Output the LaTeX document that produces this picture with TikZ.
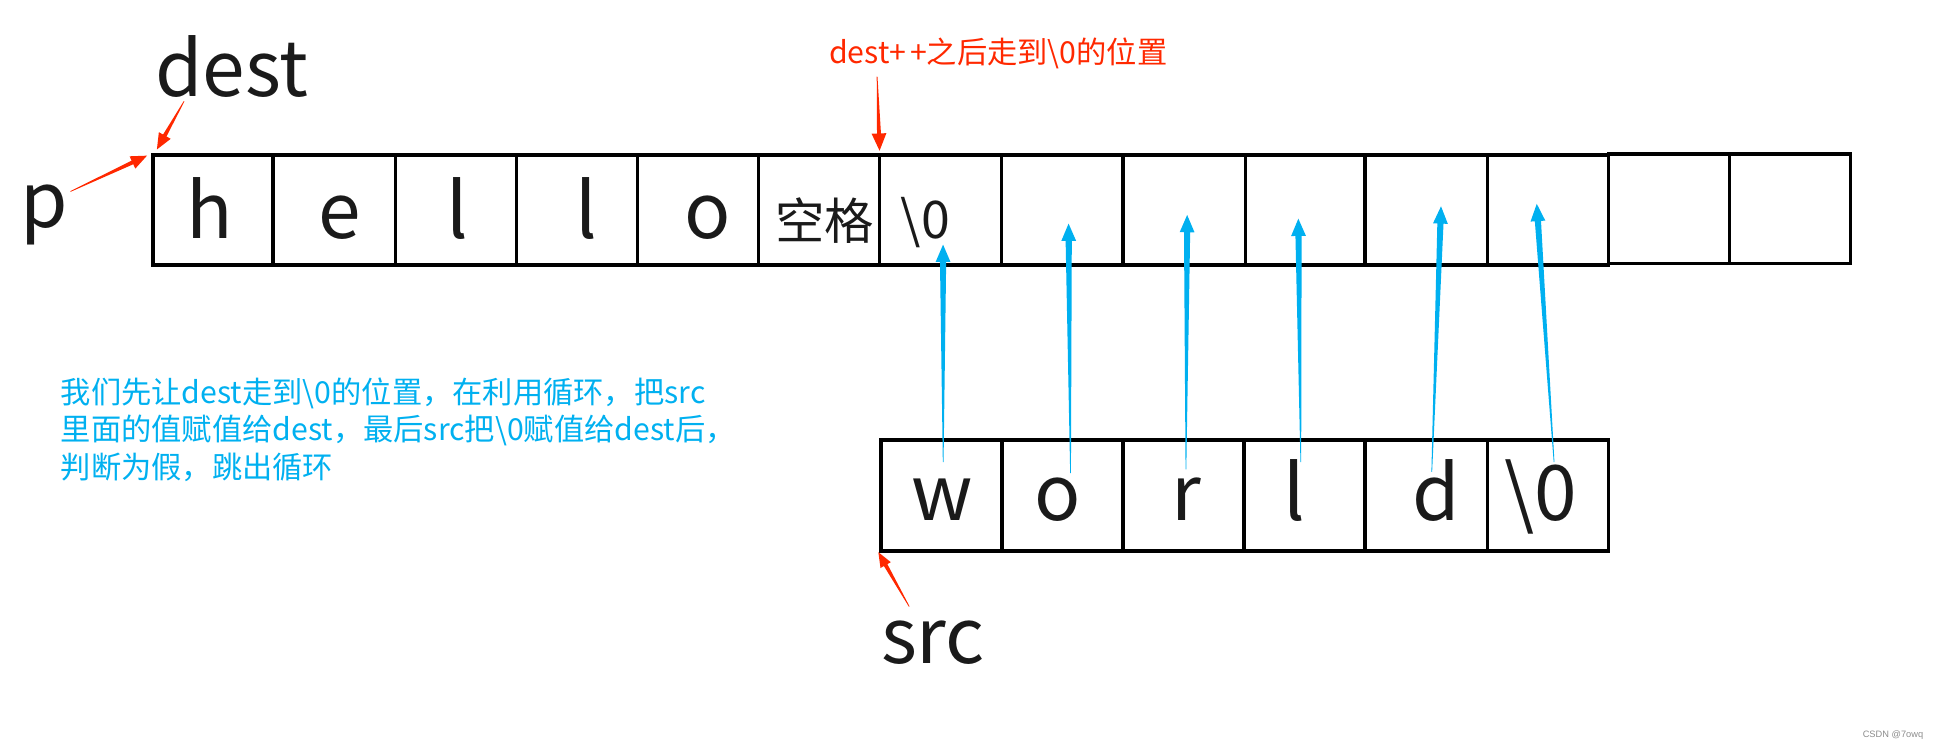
\documentclass[tikz,border=0pt]{standalone}
\usepackage{fontspec}
\setmainfont{Noto Sans CJK SC}
\newfontfamily\wmfont{Liberation Sans}
\usetikzlibrary{calc}
\definecolor{myred}{RGB}{255,40,0}
\definecolor{myblue}{RGB}{0,176,240}
\definecolor{ink}{RGB}{26,26,26}
% tapered arrow: #1 colour, #2 tail, #3 tip, #4 tail half width, #5 shaft half width, #6 head length, #7 head half width
\newcommand\tarrow[7]{%
  \coordinate (tB) at ($(#3)!#6pt!(#2)$);
  \fill[#1] ($(#2)!#4pt!90:(#3)$) -- ($(tB)!#5pt!90:(#3)$) -- ($(tB)!#7pt!90:(#3)$) -- (#3)
    -- ($(tB)!#7pt!-90:(#3)$) -- ($(tB)!#5pt!-90:(#3)$) -- ($(#2)!#4pt!-90:(#3)$) -- cycle;
}
\begin{document}
\begin{tikzpicture}[x=1pt,y=-1pt,
  cell/.style={draw=black,line width=2.8,inner sep=0,outer sep=0,minimum height=89,minimum width=98},
  big/.style={inner sep=0,text=ink,font=\fontsize{62}{62}\selectfont},
  mid/.style={inner sep=0,text=ink,font=\fontsize{#1}{#1}\selectfont},
  note/.style={inner sep=0,font=\fontsize{24.5}{30}\selectfont}]
\useasboundingbox (0,0) rectangle (1568,606);
% top row
\node[cell,minimum width=97] (t1) at (172.5,170) {};
\node[cell,minimum width=99] (t2) at (270.5,170) {};
\node[cell] (t3) at (369,170) {};
\node[cell] (t4) at (467,170) {};
\node[cell] (t5) at (565,170) {};
\node[cell] (t6) at (663,170) {};
\node[cell,minimum width=98.5] (t7) at (761.25,170) {};
\node[cell,minimum width=98.5] (t8) at (859.75,170) {};
\node[cell,minimum width=99] (t9) at (958.5,170) {};
\node[cell,minimum width=97] (t10) at (1056.5,170) {};
\node[cell,minimum width=99] (t11) at (1154.5,170) {};
\node[cell] (t12) at (1253,170) {};
\node[cell] (t13) at (1351,169) {};
\node[cell] (t14) at (1449,169) {};
% top letters
\node[big,anchor=base] (lh) at (170,193) {h};
\node[big,anchor=base] (le) at (275,193) {e};
\node[big,anchor=base] (ll1) at (370,193) {l};
\node[big,anchor=base] (ll2) at (475,193) {l};
\node[big,anchor=base] (lo) at (572.5,193) {o};
\node[mid=40,anchor=base] (lsp) at (667.5,194) {空格};
\node[mid=42,anchor=base west] (lz) at (729,193) {\textbackslash 0};
% bottom row
\node[cell,minimum height=90] (b1) at (762,401) {};
\node[cell,minimum height=90] (b2) at (860,401) {};
\node[cell,minimum height=90] (b3) at (958,401) {};
\node[cell,minimum height=90] (b4) at (1056,401) {};
\node[cell,minimum height=90,minimum width=99] (b5) at (1154.5,401) {};
\node[cell,minimum height=90] (b6) at (1253,401) {};
\node[big,anchor=base] (bw) at (762.6,421.5) {w};
\node[big,anchor=base] (bo) at (856.5,421.5) {o};
\node[big,anchor=base] (br) at (960,421.5) {r};
\node[big,anchor=base] (bl) at (1047.6,421.5) {l};
\node[big,anchor=base] (bd) at (1163,421.5) {d};
\node[big,anchor=base] (bz) at (1247,421.5) {\textbackslash 0};
% labels
\node[big,anchor=base west] (dest) at (125.5,78.5) {dest};
\node[big,anchor=base west] (p) at (16,184) {p};
\node[big,anchor=base west] (src) at (713,537) {src};
\node[note,text=myred,anchor=base west] (hint) at (671,51) {dest+\kern3pt+之后走到\textbackslash 0的位置};
\node[note,text=myblue,anchor=north west,align=left] (expl) at (49,306)
  {我们先让dest走到\textbackslash 0的位置，在利用循环，把src\\
   里面的值赋值给dest，最后src把\textbackslash 0赋值给dest后，\\
   判断为假，跳出循环};
\node[inner sep=0,anchor=base east,text=black!45,font=\wmfont\fontsize{7.5}{7.5}\selectfont] (wm) at (1557,597) {CSDN @7owq};
% arrow end points
\coordinate (pT) at (57,155);   \coordinate (pH) at (119,126);
\coordinate (dT) at (149,82);   \coordinate (dH) at (127,121);
\coordinate (hT) at (710,62);   \coordinate (hH) at (712,122);
\coordinate (sT) at (736,491);  \coordinate (sH) at (711,447);
\coordinate (a1T) at (763.5,374); \coordinate (a1H) at (763.4,198);
\coordinate (a2T) at (866.6,383); \coordinate (a2H) at (865,181);
\coordinate (a3T) at (960,380);   \coordinate (a3H) at (961,174);
\coordinate (a4T) at (1053,374);  \coordinate (a4H) at (1051,177);
\coordinate (a5T) at (1159,382);  \coordinate (a5H) at (1166.5,167);
\coordinate (a6T) at (1258,374);  \coordinate (a6H) at (1244,165);
% red arrows
\tarrow{myred}{pT}{pH}{0.3}{1.6}{13}{5.5}
\tarrow{myred}{dT}{dH}{0.3}{1.6}{13}{5.5}
\tarrow{myred}{hT}{hH}{0.3}{1.6}{14}{6}
\tarrow{myred}{sT}{sH}{0.3}{1.6}{12}{4.8}
% blue arrows
\tarrow{myblue}{a1T}{a1H}{0.3}{2.5}{14}{6}
\tarrow{myblue}{a2T}{a2H}{0.3}{2.5}{14}{6}
\tarrow{myblue}{a3T}{a3H}{0.3}{2.5}{14}{6}
\tarrow{myblue}{a4T}{a4H}{0.3}{2.5}{14}{6}
\tarrow{myblue}{a5T}{a5H}{0.3}{2.5}{14}{6}
\tarrow{myblue}{a6T}{a6H}{0.3}{2.5}{14}{6}
\end{tikzpicture}
\end{document}
